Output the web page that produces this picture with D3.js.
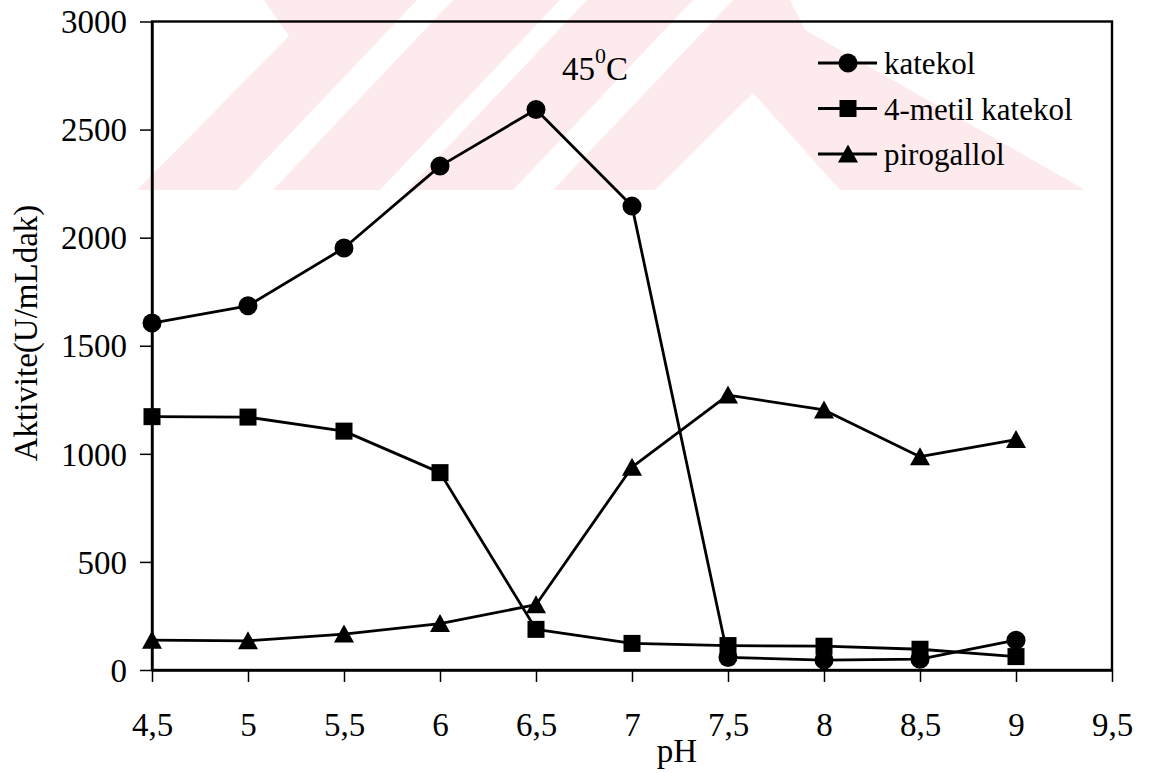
<!DOCTYPE html>
<html>
<head>
<meta charset="utf-8">
<script src="https://cdn.jsdelivr.net/npm/d3@7"></script>
<style>
  html, body { margin: 0; padding: 0; background: #fff; }
  svg { display: block; }
  svg text { font-family: "Liberation Serif", "Times New Roman", Times, "DejaVu Serif", serif !important; fill: #000; }
</style>
</head>
<body>
<script>
// ---- data ----
const pH = [4.5, 5, 5.5, 6, 6.5, 7, 7.5, 8, 8.5, 9];
const katekol = [1605, 1685, 1952, 2331, 2593, 2146, 58, 46, 50, 138];
const metilKatekol = [1172, 1170, 1105, 913, 188, 123, 113, 110, 96, 62];
const pirogallol = [138, 135, 166, 215, 302, 938, 1272, 1203, 987, 1066];
const seriesNames = ["katekol", "4-metil katekol", "pirogallol"];
const xTicks = [4.5, 5, 5.5, 6, 6.5, 7, 7.5, 8, 8.5, 9, 9.5];
const yTicks = [0, 500, 1000, 1500, 2000, 2500, 3000];
const titleMain = "45", titleSup = "0", titleUnit = "C";
const xTitle = "pH";
const yTitle = "Aktivite(U/mLdak)";

// ---- layout ----
const W = 1149, H = 773;
const L = 152, R = 1112, T = 21.5, B = 670;
const FONT = "'Liberation Serif', 'Times New Roman', Times, 'DejaVu Serif', serif";

const svg = d3.select("body").append("svg").attr("width", W).attr("height", H);

// watermark (faint background decoration)
const wm = [
  [[137,190],[289,36],[264,0],[417,0],[237,190]],
  [[453,0],[560,0],[380,190],[273,190]],
  [[587,0],[693,0],[513,190],[407,190]],
  [[553,190],[733,0],[790,0],[805,30],[1085,190],[840,190],[753,93],[655,190]]
];
svg.append("g").selectAll("polygon").data(wm).join("polygon")
  .attr("points", d => d.map(p => p.join(",")).join(" "))
  .attr("fill", "#fdeaed");

const x = d3.scaleLinear().domain([4.5, 9.5]).range([L, R]);
const y = d3.scaleLinear().domain([0, 3000]).range([B, T]);

const fmt = d => String(d).replace(".", ",");

// frame
svg.append("rect").attr("x", L).attr("y", T).attr("width", R - L).attr("height", B - T)
  .attr("fill", "none").attr("stroke", "#000").attr("stroke-width", 2.4);

// y axis
const gy = svg.append("g").attr("transform", `translate(${L},0)`)
  .call(d3.axisLeft(y).tickValues(yTicks).tickSize(12).tickSizeOuter(0).tickFormat(d => d));
gy.attr("font-family", FONT);
gy.select(".domain").attr("stroke", "#000").attr("stroke-width", 2.4);
gy.selectAll(".tick line").attr("stroke", "#000").attr("stroke-width", 1.5);
gy.selectAll(".tick text").attr("x", -25).attr("dy", "0.34em")
  .style("font-family", FONT).style("font-size", "33px").attr("fill", "#000");

// x axis
const gx = svg.append("g").attr("transform", `translate(0,${B})`)
  .call(d3.axisBottom(x).tickValues(xTicks).tickSize(12).tickSizeOuter(0).tickFormat(fmt));
gx.attr("font-family", FONT);
gx.select(".domain").attr("stroke", "#000").attr("stroke-width", 2.4);
gx.selectAll(".tick line").attr("stroke", "#000").attr("stroke-width", 1.5);
gx.selectAll(".tick text").attr("y", 66).attr("dy", 0)
  .style("font-family", FONT).style("font-size", "33px").attr("fill", "#000");

// axis titles
svg.append("text").attr("x", 677).attr("y", 762).attr("text-anchor", "middle")
  .style("font-family", FONT).style("font-size", "33px").text(xTitle);
svg.append("text").attr("transform", "translate(37,333) rotate(-90)").attr("text-anchor", "middle")
  .style("font-family", FONT).style("font-size", "33px").text(yTitle);

// title 45^0C
const tt = svg.append("text").attr("x", 562).attr("y", 80)
  .style("font-family", FONT).style("font-size", "33px");
tt.append("tspan").text(titleMain);
tt.append("tspan").attr("dy", -17).style("font-size", "22px").text(titleSup);
tt.append("tspan").attr("dy", 17).text(titleUnit);

// markers
const markers = [
  (g) => g.append("circle").attr("r", 9.5),
  (g) => g.append("rect").attr("x", -8.5).attr("y", -8.5).attr("width", 17).attr("height", 17),
  (g) => g.append("path").attr("d", "M0,-9.5L10,8.5L-10,8.5Z")
];

const seriesData = [katekol, metilKatekol, pirogallol];
const line = d3.line().x(d => x(d[0])).y(d => y(d[1]));

seriesData.forEach((vals, i) => {
  const pts = pH.map((p, j) => [p, vals[j]]);
  svg.append("path").datum(pts).attr("d", line)
    .attr("fill", "none").attr("stroke", "#000").attr("stroke-width", 2.8).attr("stroke-linejoin", "round");
});
seriesData.forEach((vals, i) => {
  const pts = pH.map((p, j) => [p, vals[j]]);
  pts.forEach(pt => {
    const g = svg.append("g").attr("transform", `translate(${x(pt[0])},${y(pt[1])})`).attr("fill", "#000");
    markers[i](g);
  });
});

// legend
const legY = [63, 108.5, 154];
seriesNames.forEach((name, i) => {
  const g = svg.append("g").attr("transform", `translate(0,${legY[i]})`);
  g.append("line").attr("x1", 818).attr("x2", 877).attr("y1", 0).attr("y2", 0)
    .attr("stroke", "#000").attr("stroke-width", 2.8);
  const m = g.append("g").attr("transform", "translate(848,0)").attr("fill", "#000");
  markers[i](m);
  g.append("text").attr("x", 884).attr("y", 11)
    .style("font-family", FONT).style("font-size", "31px").text(name);
});
</script>
</body>
</html>
